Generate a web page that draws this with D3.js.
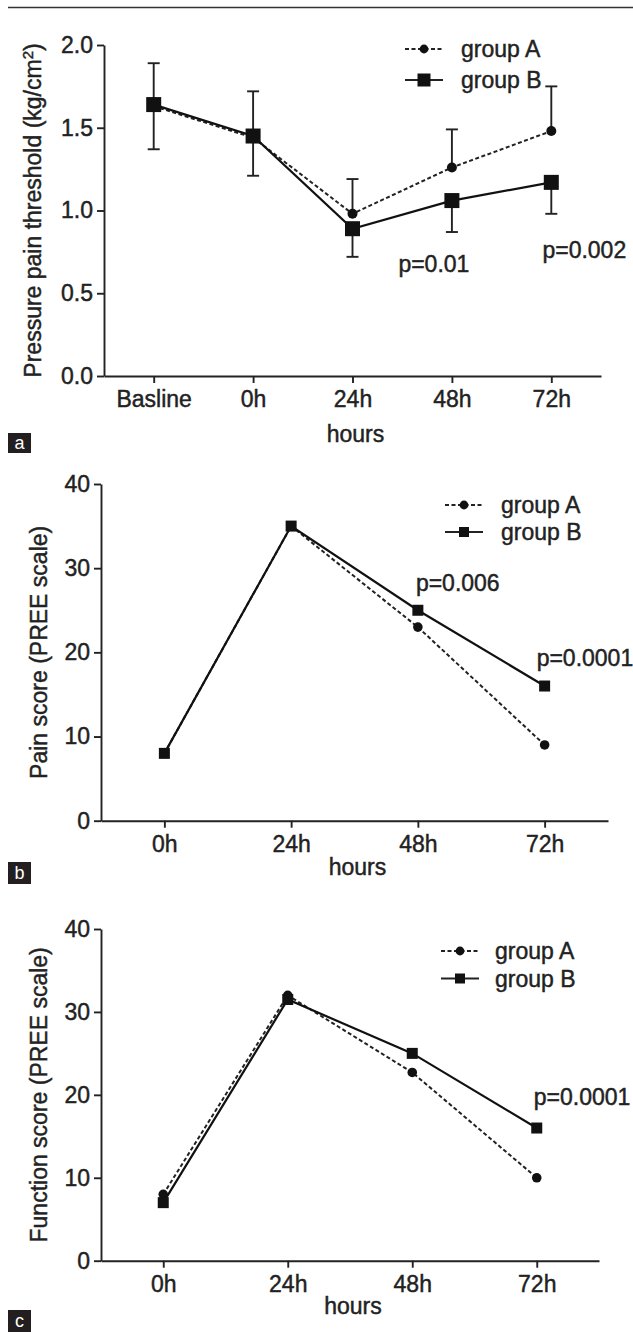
<!DOCTYPE html>
<html>
<head>
<meta charset="utf-8">
<script src="https://cdn.jsdelivr.net/npm/d3@7"></script>
<style>
  body { margin: 0; background: #fff; }
  svg text { font-family: "Liberation Sans", Arial, sans-serif; fill: #222; }
  svg text.heavy { stroke: #222; stroke-width: 0.45px; }
</style>
</head>
<body>
<svg id="chart" width="633" height="1332"></svg>
<script>
// --- data -----------------------------------------------------
const timesA = ["Basline", "0h", "24h", "48h", "72h"];
const threshA = [1.63, 1.44, 0.98, 1.26, 1.48];
const threshB = [1.64, 1.45, 0.89, 1.06, 1.17];
const threshSdA = [0.26, 0.28, 0.21, 0.23, 0.27];   // drawn upward
const threshSdB = [0.27, 0.24, 0.17, 0.19, 0.19];   // drawn downward
const threshTicks = [0, 0.5, 1.0, 1.5, 2.0];

const timesBC = ["0h", "24h", "48h", "72h"];
const painA = [8, 35, 23, 9];
const painB = [8, 35, 25, 16];
const funcA = [8, 32, 22.7, 10];
const funcB = [7, 31.5, 25, 16];
const scoreTicks = [0, 10, 20, 30, 40];

const FS = "23px";
const svg = d3.select("#chart");

// thin rule across the top of the page
svg.append("line")
    .attr("x1", 8).attr("x2", 633).attr("y1", 7.5).attr("y2", 7.5)
    .attr("stroke", "#333").attr("stroke-width", 1.5);

function drawPanel(p) {
    const x = d3.scalePoint().domain(p.cats).range([p.left, p.right]).padding(0.5);
    const y = d3.scaleLinear().domain([0, d3.max(p.ticks)]).range([p.bottom, p.top]);
    const g = svg.append("g");

    // axes
    const yAx = g.append("g").attr("transform", `translate(${p.left},0)`)
        .call(d3.axisLeft(y).tickValues(p.ticks).tickFormat(d3.format(p.fmt))
            .tickSize(7).tickPadding(4).tickSizeOuter(0));
    const xAx = g.append("g").attr("transform", `translate(0,${p.bottom})`)
        .call(d3.axisBottom(x).tickSize(7).tickPadding(8).tickSizeOuter(0));
    [yAx, xAx].forEach(ax => {
        ax.selectAll("path, line").attr("stroke", "#222").attr("stroke-width", 1.9);
        ax.selectAll("text").attr("class", "heavy").style("font-size", FS).attr("fill", "#222");
    });

    // axis titles
    g.append("text").attr("class", "heavy")
        .attr("x", (p.left + p.right) / 2 + 3).attr("y", p.hoursY)
        .attr("text-anchor", "middle").style("font-size", FS).text("hours");
    const yt = g.append("text").attr("class", "heavy")
        .attr("transform", `translate(${p.titleX},${(p.top + p.bottom) / 2}) rotate(-90)`)
        .attr("dy", "0.35em").attr("text-anchor", "middle").style("font-size", FS)
        .text(p.yTitle);
    if (p.sup) {
        yt.append("tspan").attr("baseline-shift", "super").style("font-size", "15px").text(p.sup);
        yt.append("tspan").text(")");
    }

    // error bars: group A up, group B down
    if (p.sdA) {
        const cap = 6;
        const bars = [];
        p.cats.forEach((c, i) => {
            bars.push({ c, v: p.a[i], e: p.a[i] + p.sdA[i] });
            bars.push({ c, v: p.b[i], e: p.b[i] - p.sdB[i] });
        });
        const eb = g.append("g").attr("stroke", "#222").attr("stroke-width", 1.9);
        eb.selectAll("line.v").data(bars).join("line").attr("class", "v")
            .attr("x1", d => x(d.c)).attr("x2", d => x(d.c))
            .attr("y1", d => y(d.v)).attr("y2", d => y(d.e));
        eb.selectAll("line.c").data(bars).join("line").attr("class", "c")
            .attr("x1", d => x(d.c) - cap).attr("x2", d => x(d.c) + cap)
            .attr("y1", d => y(d.e)).attr("y2", d => y(d.e));
    }

    // series lines
    const line = d3.line().x((d, i) => x(p.cats[i])).y(d => y(d));
    g.append("path").datum(p.a).attr("d", line).attr("fill", "none")
        .attr("stroke", "#222").attr("stroke-width", 2).attr("stroke-dasharray", "4,2.5");
    g.append("path").datum(p.b).attr("d", line).attr("fill", "none")
        .attr("stroke", "#111").attr("stroke-width", 2.2);

    // markers
    g.selectAll("circle.a").data(p.a).join("circle").attr("class", "a")
        .attr("cx", (d, i) => x(p.cats[i])).attr("cy", d => y(d))
        .attr("r", p.circR).attr("fill", "#111");
    g.selectAll("rect.b").data(p.b).join("rect").attr("class", "b")
        .attr("x", (d, i) => x(p.cats[i]) - p.sq / 2).attr("y", d => y(d) - p.sq / 2)
        .attr("width", p.sq).attr("height", p.sq).attr("fill", "#111");

    // legend
    const lg = g.append("g");
    [{ name: "group A", dash: "4,2.5", mark: "c" }, { name: "group B", dash: null, mark: "s" }]
        .forEach((s, i) => {
            const ly = p.legY + i * p.legGap;
            lg.append("line")
                .attr("x1", p.legX - 19).attr("x2", p.legX + 19).attr("y1", ly).attr("y2", ly)
                .attr("stroke", "#222").attr("stroke-width", 1.9)
                .attr("stroke-dasharray", s.dash);
            if (s.mark === "c") {
                lg.append("circle").attr("cx", p.legX).attr("cy", ly).attr("r", 4.4).attr("fill", "#111");
            } else {
                lg.append("rect").attr("x", p.legX - p.legSq / 2).attr("y", ly - p.legSq / 2)
                    .attr("width", p.legSq).attr("height", p.legSq).attr("fill", "#111");
            }
            lg.append("text").attr("class", "heavy").attr("x", p.legText).attr("y", ly).attr("dy", "0.36em")
                .style("font-size", FS).text(s.name);
        });

    // p-value notes
    p.notes.forEach(n => {
        g.append("text").attr("class", "heavy").attr("x", x(n.at) + n.dx).attr("y", y(n.v))
            .attr("text-anchor", n.anchor).style("font-size", FS).text(n.text);
    });

    // panel letter
    g.append("rect").attr("x", 8).attr("y", p.boxY).attr("width", 23).attr("height", p.boxH)
        .attr("fill", "#231f20");
    g.append("text").attr("x", 19.5).attr("y", p.boxY + p.boxH / 2).attr("dy", "0.36em")
        .attr("text-anchor", "middle").style("font-size", "18px").style("fill", "#fff")
        .text(p.letter);
}

drawPanel({
    cats: timesA, a: threshA, b: threshB, sdA: threshSdA, sdB: threshSdB,
    ticks: threshTicks, fmt: ".1f",
    left: 104, right: 601, top: 45, bottom: 376,
    hoursY: 442, titleX: 33, yTitle: "Pressure pain threshold (kg/cm", sup: "2",
    circR: 5, sq: 15, legX: 424, legText: 461, legY: 49, legGap: 31, legSq: 13,
    notes: [
        { text: "p=0.01", at: "48h", dx: -18, v: 0.63, anchor: "middle" },
        { text: "p=0.002", at: "72h", dx: 33, v: 0.71, anchor: "middle" }
    ],
    letter: "a", boxY: 433, boxH: 20
});

drawPanel({
    cats: timesBC, a: painA, b: painB,
    ticks: scoreTicks, fmt: "d",
    left: 101, right: 608, top: 484, bottom: 820.7,
    hoursY: 875, titleX: 39, yTitle: "Pain score (PREE scale)",
    circR: 4.8, sq: 11, legX: 464, legText: 501, legY: 505, legGap: 27, legSq: 10,
    notes: [
        { text: "p=0.006", at: "48h", dx: -2, v: 27.3, anchor: "start" },
        { text: "p=0.0001", at: "72h", dx: -8, v: 18.4, anchor: "start" }
    ],
    letter: "b", boxY: 862, boxH: 22
});

drawPanel({
    cats: timesBC, a: funcA, b: funcB,
    ticks: scoreTicks, fmt: "d",
    left: 101, right: 599, top: 929, bottom: 1260.7,
    hoursY: 1314, titleX: 39, yTitle: "Function score (PREE scale)",
    circR: 4.8, sq: 11, legX: 460, legText: 495, legY: 951, legGap: 27.5, legSq: 10,
    notes: [
        { text: "p=0.0001", at: "72h", dx: -3, v: 18.8, anchor: "start" }
    ],
    letter: "c", boxY: 1310, boxH: 22
});
</script>
</body>
</html>
